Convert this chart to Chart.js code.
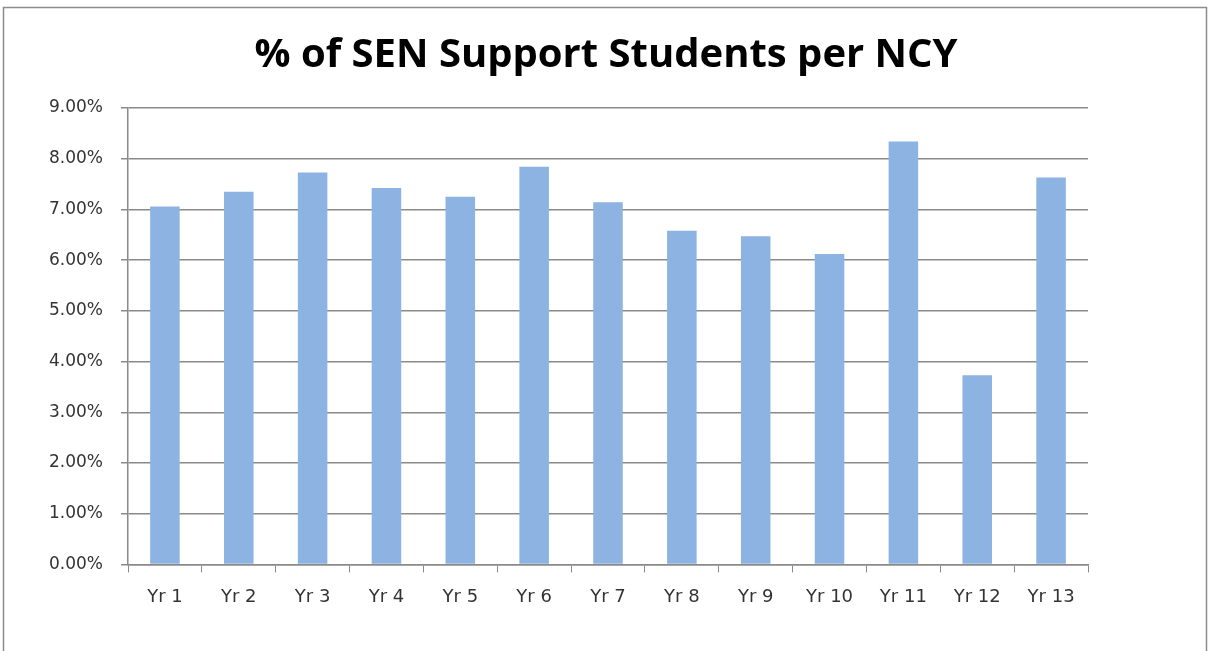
<!DOCTYPE html>
<html>
<head>
<meta charset="utf-8">
<script src="https://cdn.jsdelivr.net/npm/chart.js@4/dist/chart.umd.min.js"></script>
<style>
  html, body { margin: 0; padding: 0; background: #fff; }
  #wrap { width: 1209px; height: 651px; position: relative; }
</style>
</head>
<body>
<div id="wrap"><canvas id="myChart"></canvas></div>
<script>
const years = ['Yr 1', 'Yr 2', 'Yr 3', 'Yr 4', 'Yr 5', 'Yr 6', 'Yr 7', 'Yr 8', 'Yr 9', 'Yr 10', 'Yr 11', 'Yr 12', 'Yr 13']
const senPercent = [7.06, 7.35, 7.73, 7.42, 7.25, 7.84, 7.14, 6.58, 6.47, 6.12, 8.34, 3.73, 7.63]
const chartTitle = '% of SEN Support Students per NCY'

const gridGrey = '#8a8a8a'

// outer frame + title, drawn by hand so the title sits on the page centre
const framePlugin = {
  id: 'frame',
  beforeDraw(chart) {
    const ctx = chart.ctx
    ctx.save()
    ctx.fillStyle = '#fff'
    ctx.fillRect(0, 0, chart.width, chart.height)
    ctx.strokeStyle = '#8c8c8c'
    ctx.lineWidth = 1.5
    ctx.strokeRect(3.5, 7.5, 1203, 660)
    ctx.restore()
  },
  afterDraw(chart) {
    const ctx = chart.ctx
    ctx.save()
    ctx.fillStyle = '#000'
    ctx.font = 'bold 40px "Open Sans"'
    ctx.textAlign = 'center'
    ctx.textBaseline = 'alphabetic'
    ctx.fillText(chartTitle, 606, 67)
    ctx.restore()
  }
}

const ctx = document.getElementById('myChart')

const chart = new Chart(ctx, {
  type: 'bar',
  data: {
    labels: years,
    datasets: [{
      label: '% SEN',
      data: senPercent,
      backgroundColor: '#8db3e2',
      barPercentage: 0.4,
      categoryPercentage: 1
    }]
  },
  options: {
    responsive: true,
    maintainAspectRatio: false,
    animation: false,
    layout: {
      padding: { left: 0, right: 121, top: 108, bottom: 29 }
    },
    plugins: {
      legend: { display: false },
      tooltip: { enabled: false },
      title: { display: false }
    },
    scales: {
      x: {
        offset: true,
        grid: {
          offset: true,
          drawOnChartArea: false,
          drawTicks: true,
          tickLength: 8,
          color: gridGrey
        },
        border: { display: true, color: gridGrey, width: 1.5 },
        ticks: {
          color: '#333',
          padding: 14,
          font: { family: 'DejaVu Sans', size: 18 },
          maxRotation: 0,
          autoSkip: false
        }
      },
      y: {
        min: 0,
        max: 9,
        afterFit(scale) { scale.width = 128 },
        grid: {
          color: gridGrey,
          lineWidth: 1.5,
          drawTicks: true,
          tickLength: 7
        },
        border: { display: true, color: gridGrey, width: 1.5 },
        ticks: {
          stepSize: 1,
          color: '#333',
          padding: 18,
          font: { family: 'DejaVu Sans', size: 17 },
          callback: function(v) { return v.toFixed(2) + '%' }
        }
      }
    }
  },
  plugins: [framePlugin]
})
</script>
</body>
</html>
